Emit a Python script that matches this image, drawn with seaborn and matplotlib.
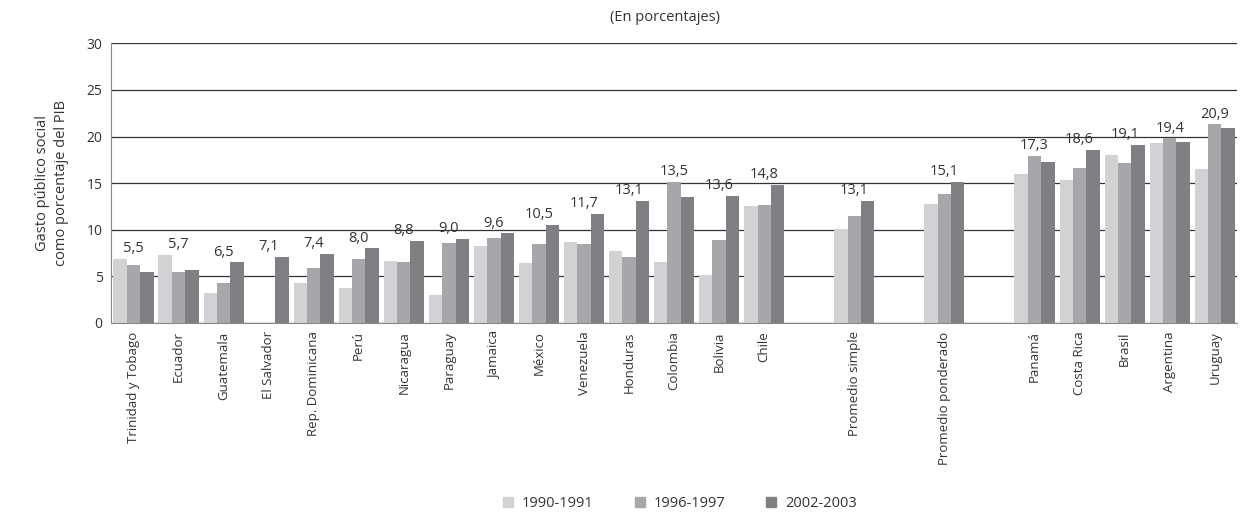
import numpy as np
import pandas as pd
import matplotlib
matplotlib.use("Agg")
import matplotlib.pyplot as plt
import seaborn as sns

# Categories (blank names reserve the empty slots between groups)
categories = ["Trinidad y Tobago", "Ecuador", "Guatemala", "El Salvador", "Rep. Dominicana",
              "Perú", "Nicaragua", "Paraguay", "Jamaica", "México", "Venezuela", "Honduras",
              "Colombia", "Bolivia", "Chile", " ", "Promedio simple", "  ",
              "Promedio ponderado", "   ", "Panamá", "Costa Rica", "Brasil", "Argentina", "Uruguay"]

nan = np.nan
v1990 = [6.9, 7.3, 3.2, nan, 4.3, 3.7, 6.7, 3.0, 8.3, 6.4, 8.7, 7.7, 6.5, 5.1, 12.6,
         nan, 10.1, nan, 12.8, nan, 16.0, 15.3, 18.0, 19.3, 16.5]
v1996 = [6.2, 5.5, 4.3, nan, 5.9, 6.9, 6.5, 8.6, 9.1, 8.5, 8.5, 7.1, 15.1, 8.9, 12.7,
         nan, 11.5, nan, 13.8, nan, 17.9, 16.6, 17.2, 19.8, 21.3]
v2002 = [5.5, 5.7, 6.5, 7.1, 7.4, 8.0, 8.8, 9.0, 9.6, 10.5, 11.7, 13.1, 13.5, 13.6, 14.8,
         nan, 13.1, nan, 15.1, nan, 17.3, 18.6, 19.1, 19.4, 20.9]
periods = ["1990-1991", "1996-1997", "2002-2003"]
colors = ["#d1d2d4", "#a6a7aa", "#7f8084"]

df = pd.DataFrame({"pais": categories, periods[0]: v1990, periods[1]: v1996, periods[2]: v2002})
long_df = df.melt(id_vars="pais", var_name="periodo", value_name="valor").dropna()

sns.set_style("white")
plt.rcParams["font.family"] = ["Open Sans", "DejaVu Sans"]
text_color = "#333333"

fig = plt.figure(figsize=(12.41, 5.14), dpi=100)
ax = fig.add_axes([0.0894, 0.3716, 0.9076, 0.5442])

sns.barplot(data=long_df, x="pais", y="valor", hue="periodo", order=categories,
            hue_order=periods, palette=colors, width=0.89, saturation=1,
            linewidth=0, errorbar=None, ax=ax, legend=False)

ax.set_ylim(0, 30)
ax.set_xlim(-0.5, len(categories) - 0.5)
ax.set_yticks(range(0, 31, 5))
ax.yaxis.grid(True, color="#333333", linewidth=0.9)
ax.set_axisbelow(True)
for s in ["top", "right"]:
    ax.spines[s].set_visible(False)
ax.spines["left"].set_color("#888888")
ax.spines["bottom"].set_color("#888888")

# tick marks on category boundaries, labels at centres
ax.set_xticks(range(len(categories)))
ax.set_xticklabels(categories, rotation=90, fontsize=9.5, color=text_color)
ax.tick_params(axis="x", which="major", length=0, pad=6)
ax.set_xticks(np.arange(-0.5, len(categories), 1.0), minor=True)
ax.tick_params(axis="x", which="minor", length=5, color="#555555", direction="out")
ax.tick_params(axis="y", length=4, color="#555555", labelsize=10, labelcolor=text_color, pad=2)

ax.set_xlabel("")
ax.set_ylabel("Gasto público social\ncomo porcentaje del PIB", fontsize=10.5,
              color=text_color, labelpad=13, linespacing=1.35)

# value labels (2002-2003) above each group
for i, lab in enumerate(v2002):
    if np.isnan(lab):
        continue
    top = np.nanmax([v1990[i], v1996[i], v2002[i]])
    ax.text(i, top + 0.3, f"{lab:.1f}".replace(".", ","), ha="center", va="bottom",
            fontsize=10.5, color=text_color)

fig.text(0.536, 0.965, "(En porcentajes)", ha="center", va="center", fontsize=10.5, color=text_color)

handles = [plt.Rectangle((0, 0), 1, 1, color=c) for c in colors]
fig.legend(handles, periods, loc="lower center", bbox_to_anchor=(0.548, -0.02), ncol=3,
           frameon=False, fontsize=10.5, handlelength=0.7, handleheight=0.7,
           handletextpad=0.6, columnspacing=2.8, labelcolor=text_color)

fig.savefig("out.png", dpi=100)
